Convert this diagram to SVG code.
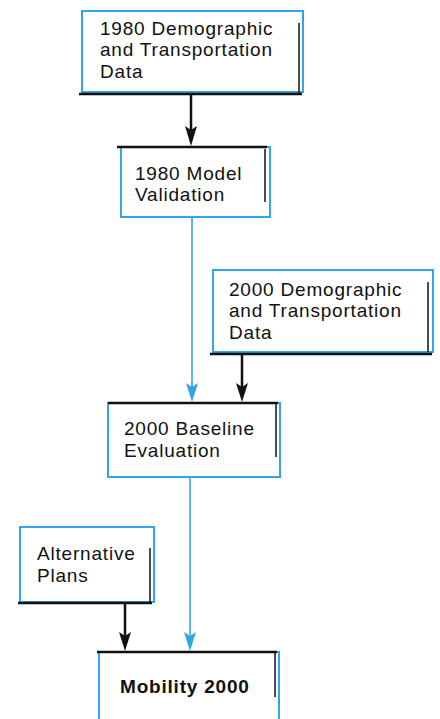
<svg xmlns="http://www.w3.org/2000/svg" width="440" height="719" viewBox="0 0 440 719">
<defs>
<style>
.blue{fill:none;stroke:#30a6ea;stroke-width:2}
.blk{fill:none;stroke:#111;stroke-width:2.5}
.blkv{fill:none;stroke:#111;stroke-width:1.5}
.t{font-family:"Liberation Sans",Arial,sans-serif;font-size:19px;fill:#111;letter-spacing:0.8px}
.tb{font-family:"Liberation Sans",Arial,sans-serif;font-size:19px;font-weight:bold;fill:#111;letter-spacing:0.8px}
.cb{stroke:#111;stroke-width:2.5;fill:none}
.cl{stroke:#30a6ea;stroke-width:1.6;fill:none}
.hb{fill:#111}
.hl{fill:#30a6ea}
</style>
</defs>
<rect width="440" height="719" fill="#fff"/>
<g id="connectors">
<line class="cb" x1="191" y1="95" x2="191" y2="140"/>
<line class="cl" x1="192" y1="217" x2="192" y2="396"/>
<line class="cb" x1="242" y1="355" x2="242" y2="396"/>
<line class="cl" x1="190" y1="477" x2="190" y2="645"/>
<line class="cb" x1="125" y1="604" x2="125" y2="645"/>
<path class="hb" d="M185,126 L191,130 L197,126 L191,146 Z"/>
<path class="hl" d="M186,383 L192,387 L198,383 L192,402 Z"/>
<path class="hb" d="M236,383 L242,387 L248,383 L242,402 Z"/>
<path class="hl" d="M184,632 L190,636 L196,632 L190,651 Z"/>
<path class="hb" d="M119,632 L125,636 L131,632 L125,651 Z"/>
</g>
<g id="n1">
<rect class="blue" x="82" y="11" width="221" height="81"/>
<line class="blk" x1="79" y1="94" x2="302" y2="94"/>
<line class="blkv" x1="299" y1="23" x2="299" y2="94"/>
<text class="t" x="100" y="35">1980 Demographic</text>
<text class="t" x="100" y="56">and Transportation</text>
<text class="t" x="100" y="78">Data</text>
</g>
<g id="n2">
<rect class="blue" x="121" y="147" width="149" height="70"/>
<line class="blk" x1="117" y1="147" x2="267" y2="147"/>
<line class="blkv" x1="265" y1="149" x2="265" y2="202"/>
<text class="t" x="135" y="180">1980 Model</text>
<text class="t" x="135" y="201">Validation</text>
</g>
<g id="n3">
<rect class="blue" x="213" y="270" width="220" height="82"/>
<line class="blk" x1="210" y1="354" x2="432" y2="354"/>
<line class="blkv" x1="428" y1="282" x2="428" y2="352"/>
<text class="t" x="229" y="296">2000 Demographic</text>
<text class="t" x="229" y="317">and Transportation</text>
<text class="t" x="229" y="339">Data</text>
</g>
<g id="n4">
<rect class="blue" x="108" y="403" width="172" height="74"/>
<line class="blk" x1="108" y1="403" x2="278" y2="403"/>
<line class="blkv" x1="276" y1="404" x2="276" y2="457"/>
<text class="t" x="124" y="435">2000 Baseline</text>
<text class="t" x="124" y="457">Evaluation</text>
</g>
<g id="n5">
<rect class="blue" x="20" y="527" width="134" height="75"/>
<line class="blk" x1="18" y1="603" x2="152" y2="603"/>
<line class="blkv" x1="150" y1="548" x2="150" y2="602"/>
<text class="t" x="37" y="560">Alternative</text>
<text class="t" x="37" y="582">Plans</text>
</g>
<g id="n6">
<path class="blue" d="M99,719 V652 H279 V719"/>
<line class="blk" x1="97" y1="652" x2="277" y2="652"/>
<line class="blkv" x1="275" y1="652" x2="275" y2="697"/>
<text class="tb" x="120" y="693">Mobility 2000</text>
</g>
</svg>
